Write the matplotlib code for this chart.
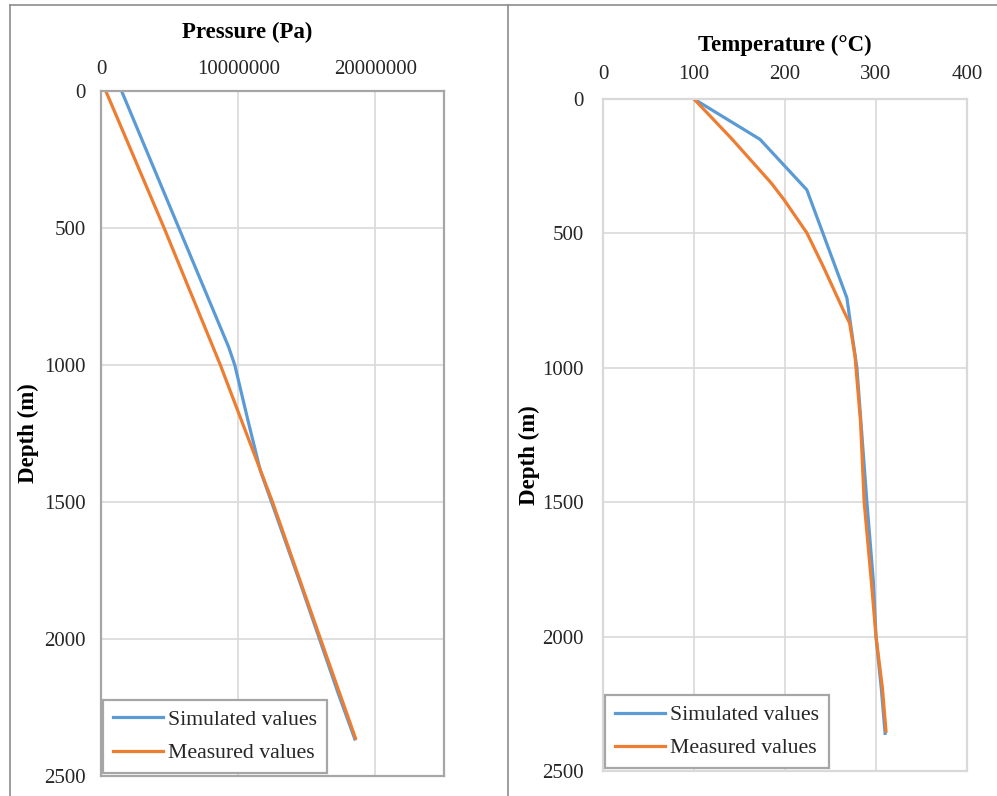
import numpy as np
import matplotlib
matplotlib.use('Agg')
import matplotlib.pyplot as plt
from matplotlib.lines import Line2D
from matplotlib.ticker import FuncFormatter

plt.rcParams['font.family'] = ['Liberation Serif', 'DejaVu Serif']

# Pressure profile (Pa) vs depth (m)
p_sim_depth = [0, 934, 1000, 1200, 1383, 1800, 2200, 2365]
p_sim = [1.5e6, 9.3e6, 9.75e6, 10.7e6, 11.6e6, 14.55e6, 17.3e6, 18.5e6]
p_meas_depth = [0, 500, 1000, 1500, 2000, 2362]
p_meas = [0.35e6, 4.6e6, 8.7e6, 12.5e6, 16.0e6, 18.55e6]

# Temperature profile (°C) vs depth (m)
t_sim_depth = [0, 150, 338, 740, 860, 1000, 1500, 1790, 2000, 2200, 2360]
t_sim = [100, 172.5, 224, 268, 273, 279, 290, 297, 300, 306, 310]
t_meas_depth = [0, 150, 313, 375, 498, 623, 785, 834, 958, 1000,
                1200, 1500, 1800, 2000, 2190, 2352]
t_meas = [100, 142, 185, 199, 224, 242, 264, 271, 277, 278,
          283, 287, 295, 300, 307, 311]

blue, orange = '#5B9BD5', '#ED7D31'
grid_clr, txt_clr = '#D9D9D9', '#262626'
W, H = 997, 796

fig = plt.figure(figsize=(W/100, H/100), dpi=100)
fig.patch.set_facecolor('white')

def box(l, t, r, b):
    return [l/W, 1 - b/H, (r - l)/W, (b - t)/H]

axL = fig.add_axes(box(101, 91, 444, 776))
axR = fig.add_axes(box(603, 99, 967, 771))

def style(ax, spine_clr):
    ax.xaxis.tick_top()
    ax.xaxis.set_label_position('top')
    ax.set_ylim(2500, 0)
    ax.set_yticks(np.arange(0, 2501, 500))
    ax.grid(True, color=grid_clr, linewidth=1.2)
    ax.set_axisbelow(True)
    for s in ax.spines.values():
        s.set_color(spine_clr)
        s.set_linewidth(1.6)
    ax.tick_params(length=0, labelsize=15, colors=txt_clr)

# Left: pressure
axL.plot(p_sim, p_sim_depth, color=blue, lw=2.3, label='Simulated values')
axL.plot(p_meas, p_meas_depth, color=orange, lw=2.3, label='Measured values')
style(axL, '#A6A6A6')
axL.set_xlim(0, 25e6)
axL.set_xticks([0, 1e7, 2e7])
axL.xaxis.set_major_formatter(FuncFormatter(lambda v, p: f'{v:.0f}'))
axL.tick_params(axis='x', pad=9)
axL.tick_params(axis='y', pad=11)
axL.set_xlabel('Pressure (Pa)', fontsize=16.5, fontweight='bold', color='black')
axL.xaxis.set_label_coords(0.427, 1.078)
axL.set_ylabel('Depth (m)', fontsize=16.5, fontweight='bold', color='black')
axL.yaxis.set_label_coords(-0.18, 0.5)

# Right: temperature
axR.plot(t_sim, t_sim_depth, color=blue, lw=2.3, label='Simulated values')
axR.plot(t_meas, t_meas_depth, color=orange, lw=2.3, label='Measured values')
style(axR, '#D9D9D9')
axR.set_xlim(0, 400)
axR.set_xticks(np.arange(0, 401, 100))
axR.tick_params(axis='x', pad=11)
axR.tick_params(axis='y', pad=14)
axR.set_xlabel('Temperature (°C)', fontsize=16.5, fontweight='bold', color='black')
axR.xaxis.set_label_coords(0.5, 1.072)
axR.set_ylabel('Depth (m)', fontsize=16.5, fontweight='bold', color='black')
axR.yaxis.set_label_coords(-0.173, 0.47)

for ax in (axL, axR):
    leg = ax.legend(loc='lower left', bbox_to_anchor=(0.005, 0.004),
                    borderaxespad=0, fontsize=15.7, handlelength=2.3,
                    handletextpad=0.25, labelspacing=0.6, borderpad=0.45,
                    fancybox=False, framealpha=1)
    leg.get_frame().set_edgecolor('#A6A6A6')
    leg.get_frame().set_linewidth(1.6)
    for t in leg.get_texts():
        t.set_color(txt_clr)

# chart area borders
def fline(xs, ys):
    fig.add_artist(Line2D([x/W for x in xs], [1 - y/H for y in ys],
                          color='#8C8C8C', lw=1.2))

fline([10, 10], [5, H])
fline([10, W], [5, 5])
fline([508, 508], [5, H])

plt.savefig('out.png', dpi=100)
